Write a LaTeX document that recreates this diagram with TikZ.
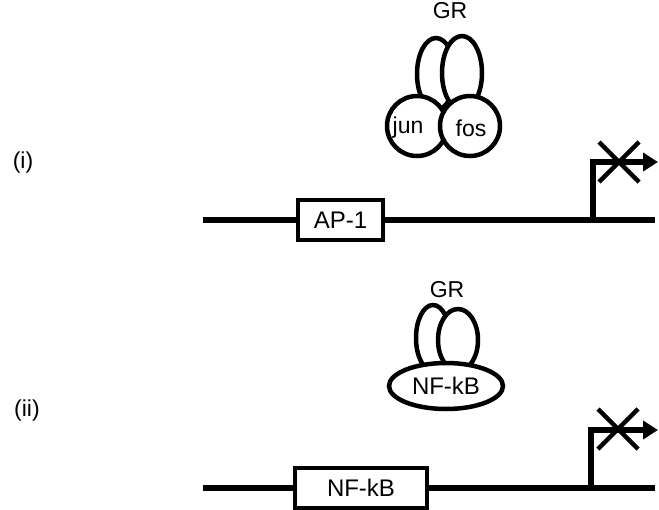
\documentclass[tikz,border=0pt]{standalone}
\usepackage{fontspec}
\setmainfont{Liberation Sans}
\usetikzlibrary{arrows.meta,shapes.geometric}
\begin{document}
\begin{tikzpicture}[x=1pt,y=-1pt,
  lbl/.style={font=\fontsize{23}{27}\selectfont, inner sep=0pt},
  dna/.style={line width=5.5pt},
  site/.style={draw, line width=4.5pt, fill=white, minimum height=40pt, inner sep=0pt, font=\fontsize{24}{28}\selectfont},
  prot/.style={draw, line width=4.5pt, fill=white},
  tss/.style={line width=5.5pt, -{Triangle[length=15pt,width=18pt]}},
  block/.style={line width=4.5pt}]
\useasboundingbox (0,0) rectangle (659,509);

% ---------- (i) AP-1 ----------
\node[lbl] (lab1) at (23,163) {(i)};
\coordinate (s1) at (203,220);
\coordinate (e1) at (655,220);
\node[site, minimum width=85pt] (ap1) at (340.5,220) {AP-1};
\draw[dna] (s1) -- (ap1.west);
\draw[dna] (ap1.east) -- (e1);
\coordinate (p1) at (593,220);
\coordinate (t1) at (593,162);
\coordinate (a1) at (658,162);
\draw[tss] (p1) -- (t1) -- (a1);
\coordinate (x1) at (619,162);
\draw[block] ([shift={(-20,-20)}]x1) -- ([shift={(20,20)}]x1);
\draw[block] ([shift={(20,-20)}]x1) -- ([shift={(-20,20)}]x1);

% GR dimer bound to jun/fos
\node[lbl] (gr1) at (450,11) {GR};
\draw[prot] (436,74) ellipse [x radius=19, y radius=36];
\draw[prot] (462,73) ellipse [x radius=20, y radius=37];
\node[prot, circle, minimum size=60pt, inner sep=0pt] (jun) at (417,126) {};
\node[prot, circle, minimum size=60pt, inner sep=0pt] (fos) at (470,126) {};
\node[lbl] at (408,128) {jun};
\node[lbl] at (471,128) {fos};

% ---------- (ii) NF-kB ----------
\node[lbl] (lab2) at (27,411) {(ii)};
\coordinate (s2) at (203,488);
\coordinate (e2) at (655,488);
\node[site, minimum width=132pt] (nfkb) at (361,488) {NF-kB};
\draw[dna] (s2) -- (nfkb.west);
\draw[dna] (nfkb.east) -- (e2);
\coordinate (p2) at (591,488);
\coordinate (t2) at (591,430);
\coordinate (a2) at (658,430);
\draw[tss] (p2) -- (t2) -- (a2);
\coordinate (x2) at (618,429);
\draw[block] ([shift={(-20,-20)}]x2) -- ([shift={(20,20)}]x2);
\draw[block] ([shift={(20,-20)}]x2) -- ([shift={(-20,20)}]x2);

% GR dimer bound to NF-kB
\node[lbl] (gr2) at (447,290) {GR};
\draw[prot] (433,338) ellipse [x radius=17, y radius=33];
\draw[prot] (458,340) ellipse [x radius=20, y radius=31];
\node[prot, ellipse, minimum width=114pt, minimum height=46pt, inner sep=0pt, font=\fontsize{24}{28}\selectfont] (nfkbp) at (446,386) {NF-kB};
\end{tikzpicture}
\end{document}
